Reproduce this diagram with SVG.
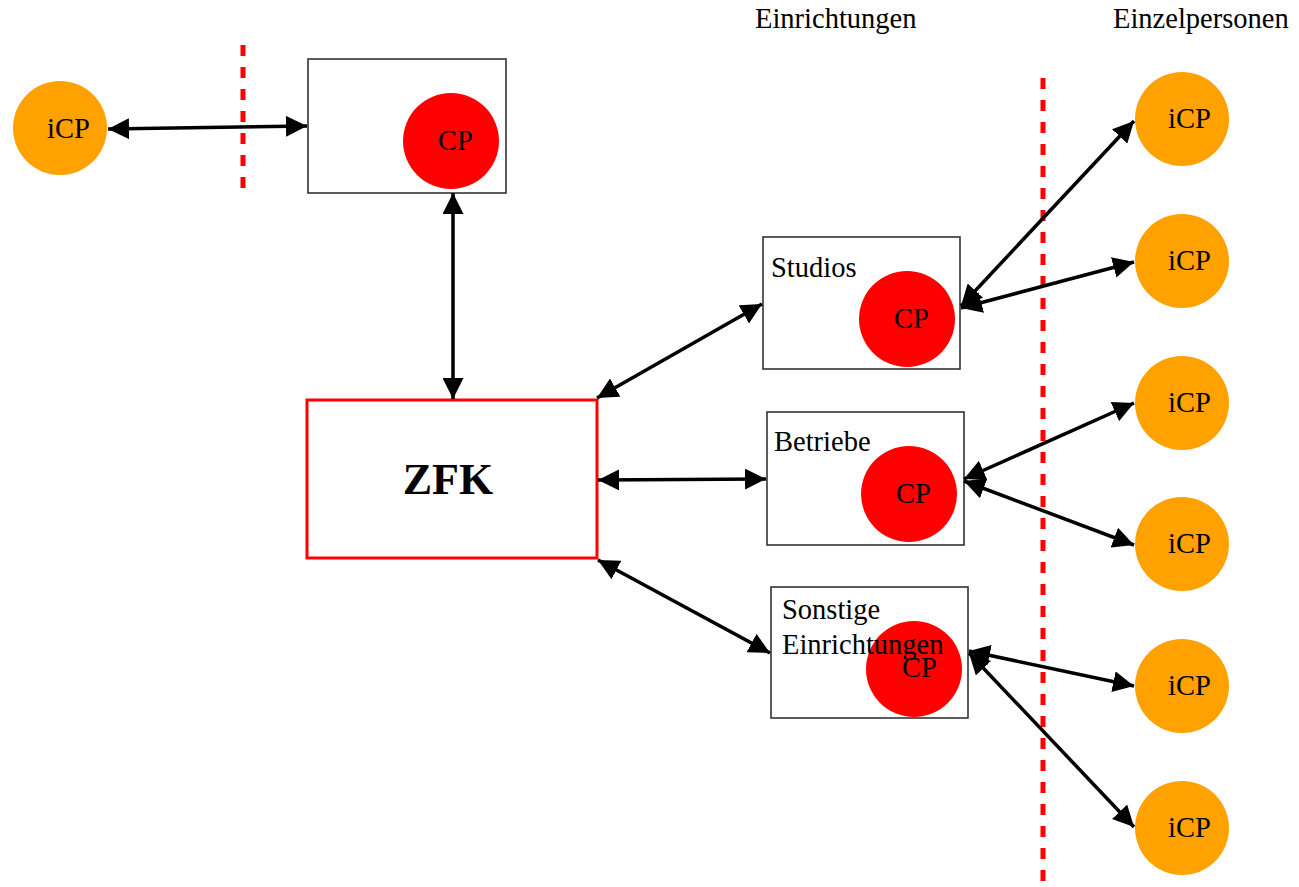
<svg xmlns="http://www.w3.org/2000/svg" width="1299" height="887" viewBox="0 0 1299 887">
  <style>
    .lbl { font-family: "Liberation Serif", "Times New Roman", serif; font-size: 28.5px; fill: #000; }
    .zfk { font-family: "Liberation Serif", "Times New Roman", serif; font-size: 44px; font-weight: bold; fill: #000; }
    .box { fill: #fff; stroke: #333; stroke-width: 1.6; }
    .cp { fill: #ff0000; }
    .icp { fill: #ffa200; }
    .link { stroke: #000; stroke-width: 3.5; fill: none; marker-start: url(#head); marker-end: url(#head); }
    .border { stroke: #ff0000; stroke-width: 5; stroke-dasharray: 11 11; fill: none; }
  </style>
  <defs>
    <marker id="head" viewBox="0 0 10 10" refX="10" refY="5" markerUnits="userSpaceOnUse" markerWidth="21" markerHeight="21" orient="auto-start-reverse">
      <path d="M0,0 L10,5 L0,10 z" fill="#000"/>
    </marker>
  </defs>
  <rect width="1299" height="887" fill="#fff"/>

  <!-- column headings -->
  <text class="lbl" x="755" y="28">Einrichtungen</text>
  <text class="lbl" x="1113" y="28">Einzelpersonen</text>

  <!-- boundary lines -->
  <line class="border" x1="243" y1="45" x2="243" y2="195"/>
  <line class="border" x1="1043" y1="78" x2="1043" y2="887"/>

  <!-- external participant, top left -->
  <g id="icp-left">
    <circle class="icp" cx="60" cy="128" r="47"/>
    <text class="lbl" x="47" y="138">iCP</text>
  </g>

  <!-- upper facility -->
  <g id="top-box">
    <rect class="box" x="308" y="59" width="198" height="134"/>
    <circle class="cp" cx="451" cy="141" r="48"/>
    <text class="lbl" x="438" y="150">CP</text>
  </g>

  <!-- central unit -->
  <g id="zfk">
    <rect x="307" y="400" width="290" height="158" fill="#fff" stroke="#ff0000" stroke-width="3"/>
    <text class="zfk" x="448" y="494" text-anchor="middle">ZFK</text>
  </g>

  <!-- facilities -->
  <g id="studios">
    <rect class="box" x="763" y="237" width="197" height="132"/>
    <circle class="cp" cx="907" cy="319" r="48"/>
    <text class="lbl" x="771" y="277">Studios</text>
    <text class="lbl" x="894" y="328">CP</text>
  </g>
  <g id="betriebe">
    <rect class="box" x="767" y="412" width="197" height="133"/>
    <circle class="cp" cx="909" cy="494" r="48"/>
    <text class="lbl" x="774" y="451">Betriebe</text>
    <text class="lbl" x="896" y="503">CP</text>
  </g>
  <g id="sonstige">
    <rect class="box" x="771" y="587" width="197" height="131"/>
    <circle class="cp" cx="914" cy="669" r="48"/>
    <text class="lbl" x="782" y="619">Sonstige</text>
    <text class="lbl" x="782" y="654">Einrichtungen</text>
    <text class="lbl" x="902" y="677">CP</text>
  </g>

  <!-- individual participants -->
  <g id="icp-1"><circle class="icp" cx="1182" cy="119" r="47"/><text class="lbl" x="1168" y="128">iCP</text></g>
  <g id="icp-2"><circle class="icp" cx="1182" cy="261" r="47"/><text class="lbl" x="1168" y="270">iCP</text></g>
  <g id="icp-3"><circle class="icp" cx="1182" cy="403" r="47"/><text class="lbl" x="1168" y="412">iCP</text></g>
  <g id="icp-4"><circle class="icp" cx="1182" cy="544" r="47"/><text class="lbl" x="1168" y="553">iCP</text></g>
  <g id="icp-5"><circle class="icp" cx="1182" cy="686" r="47"/><text class="lbl" x="1168" y="695">iCP</text></g>
  <g id="icp-6"><circle class="icp" cx="1182" cy="828" r="47"/><text class="lbl" x="1168" y="837">iCP</text></g>

  <!-- connectors -->
  <g id="connectors">
    <line class="link" x1="108" y1="129" x2="307" y2="126"/>
    <line class="link" x1="453" y1="193" x2="453" y2="399"/>
    <line class="link" x1="597" y1="398" x2="762" y2="304"/>
    <line class="link" x1="598" y1="480" x2="766" y2="479"/>
    <line class="link" x1="598" y1="560" x2="770" y2="653"/>
    <line class="link" x1="961" y1="306" x2="1134" y2="121"/>
    <line class="link" x1="961" y1="308" x2="1134" y2="262"/>
    <line class="link" x1="964" y1="479" x2="1134" y2="403"/>
    <line class="link" x1="964" y1="481" x2="1134" y2="545"/>
    <line class="link" x1="969" y1="651" x2="1134" y2="686"/>
    <line class="link" x1="969" y1="653" x2="1134" y2="827"/>
  </g>
</svg>
